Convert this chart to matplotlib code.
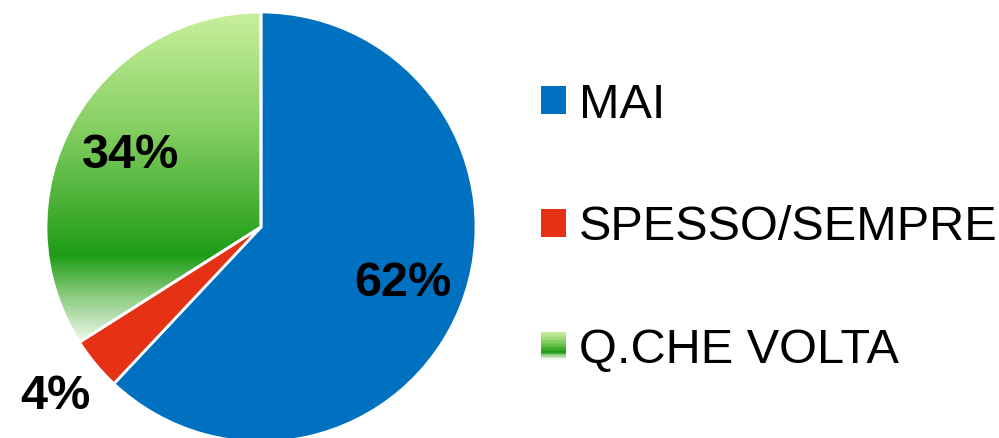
import numpy as np
import matplotlib.pyplot as plt
from matplotlib.colors import LinearSegmentedColormap
from matplotlib.legend_handler import HandlerPatch
from matplotlib.patches import Rectangle

categories = ['MAI', 'SPESSO/SEMPRE', 'Q.CHE VOLTA']
values = [62, 4, 34]
labels = ['62%', '4%', '34%']

plt.rcParams['font.family'] = ['Liberation Sans', 'DejaVu Sans']

blue = '#0070c0'
red = '#e53215'
green_stops = [(0.0, '#c9f09d'), (0.35, '#86cf63'), (0.74, '#1e9c16'),
               (0.86, '#8acb7e'), (1.0, '#eef8ea')]
green_cmap = LinearSegmentedColormap.from_list('grn', green_stops)

fig = plt.figure(figsize=(9.99, 4.38), dpi=100)
r_px = 215
cx, cy = 261, 438 - 227
ax = fig.add_axes([(cx - r_px) / 999, (cy - r_px) / 438, 2 * r_px / 999, 2 * r_px / 438])

wedges, _ = ax.pie(values, colors=[blue, red, '#4cb53a'], startangle=90,
                   counterclock=False, radius=1, center=(0, 0),
                   wedgeprops=dict(edgecolor='white', linewidth=2))
for w in wedges:
    w.set_clip_on(False)

# gradient fill for the green wedge
gw = wedges[2]
gw.set_facecolor('none')
ext = gw.get_path().get_extents()
grad = np.linspace(0, 1, 256).reshape(-1, 1)
im = ax.imshow(grad, cmap=green_cmap, aspect='auto',
               extent=[ext.x0, ext.x1, ext.y0, 1.0], origin='upper', zorder=0.5)
im.set_clip_path(gw)
gw.set_zorder(1)

ax.set_xlim(-1, 1)
ax.set_ylim(-1, 1)
ax.set_aspect('equal')
ax.axis('off')

# percentage labels
dist = [0.71, 1.24, 0.69]
for w, lab, d in zip(wedges, labels, dist):
    ang = np.deg2rad((w.theta1 + w.theta2) / 2)
    ax.text(d * np.cos(ang), d * np.sin(ang), lab, ha='center', va='center',
            fontsize=35, fontweight='bold', color='black', clip_on=False)


class GradientHandler(HandlerPatch):
    def create_artists(self, legend, orig_handle, xdescent, ydescent,
                       width, height, fontsize, trans):
        n = 20
        arts = []
        for i in range(n):
            c = green_cmap(i / (n - 1))
            y0 = -ydescent + height * (1 - (i + 1) / n)
            r = Rectangle((-xdescent, y0), width, height / n + 0.3,
                          facecolor=c, edgecolor='none', transform=trans)
            arts.append(r)
        return arts


handles = [Rectangle((0, 0), 1, 1, facecolor=blue),
           Rectangle((0, 0), 1, 1, facecolor=red),
           Rectangle((0, 0), 1, 1, facecolor='#4cb53a')]
fig.legend(handles, categories, loc='center left',
           bbox_to_anchor=(541 / 999, (438 - 228) / 438),
           frameon=False, fontsize=35, handlelength=0.51, handleheight=0.51,
           handletextpad=0.27, labelspacing=1.6, borderpad=0, borderaxespad=0,
           handler_map={handles[2]: GradientHandler()})

fig.savefig('out.png', dpi=100)
